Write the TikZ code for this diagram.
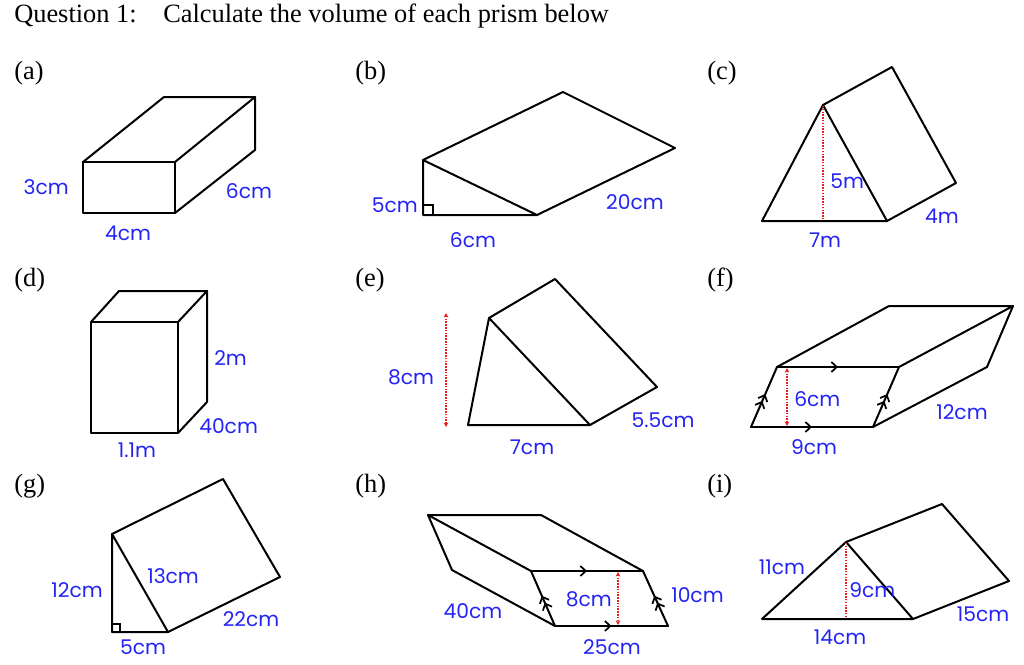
\documentclass[tikz,border=0pt]{standalone}
\usepackage{fontspec}
\setmainfont{Liberation Serif}
\newfontfamily\labelfont{Poppins}
\usetikzlibrary{arrows.meta,decorations.markings}
\definecolor{labelblue}{RGB}{35,35,245}
\definecolor{hred}{RGB}{235,30,30}

\begin{document}
\begin{tikzpicture}[x=0.75pt,y=-0.75pt,
		prism/.style={line width=1.5pt,line cap=round,line join=round},
		len/.style={text=labelblue,font=\labelfont\fontsize{15.2}{18}\selectfont,inner sep=0pt},
		part/.style={anchor=west,font=\fontsize{19.8}{23}\selectfont,inner sep=0pt},
		hline/.style={hred,line width=1.1pt,densely dotted},
		harrow/.style={hline,{Stealth[length=3.5pt,width=3.5pt]}-{Stealth[length=3.5pt,width=3.5pt]}},
		rangle/.style={line width=1.2pt},
		par1/.style={prism,postaction={decorate},decoration={markings,
			mark=at position 0.5 with {\arrow{Straight Barb[length=4pt,width=7.5pt,line width=1.3pt]}}}},
		par2/.style={prism,postaction={decorate},decoration={markings,
			mark=at position 0.55 with {\arrow{Straight Barb[length=4pt,width=7.5pt,line width=1.3pt] Straight Barb[length=4pt,width=7.5pt,line width=1.3pt]}}}}]
		
		\useasboundingbox (0,0) rectangle (1024,664);
		
		% Title
		\node[part,anchor=base west] (q) at (14,22) {Question 1:};
		\node[part,anchor=base west] (title) at (163,22) {Calculate the volume of each prism below};
		
		% Part labels
		\node[part] (pa) at (14,73) {(a)};
		\node[part] (pb) at (355,73) {(b)};
		\node[part] (pc) at (707,73) {(c)};
		\node[part] (pd) at (14,280) {(d)};
		\node[part] (pe) at (355,280) {(e)};
		\node[part] (pf) at (707,280) {(f)};
		\node[part] (pg) at (14,486) {(g)};
		\node[part] (ph) at (355,486) {(h)};
		\node[part] (pi) at (707,486) {(i)};
		
		% (a) cuboid
		\draw[prism] (83,162) -- (175,162) -- (175,213) -- (83,213) -- cycle;
		\draw[prism] (83,162) -- (164,97) -- (255,97) -- (175,162);
		\draw[prism] (255,97) -- (255,150) -- (175,213);
		\node[len,anchor=east] (a1) at (69,187) {3cm};
		\node[len] (a2) at (249,191) {6cm};
		\node[len] (a3) at (128,233) {4cm};
		
		% (b) right-angled wedge
		\draw[prism] (423,160) -- (423,215) -- (537,215) -- cycle;
		\draw[prism] (423,160) -- (563,92) -- (675,148) -- (537,215);
		\draw[rangle] (423,205) -| (433,215);
		\node[len,anchor=east] (b1) at (418,205) {5cm};
		\node[len] (b2) at (473,240) {6cm};
		\node[len] (b3) at (635,202) {20cm};
		
		% (c) triangular prism
		\draw[prism] (762,221) -- (823,105) -- (887,221) -- cycle;
		\draw[prism] (823,105) -- (892,67) -- (956,183) -- (887,221);
		\draw[hline] (823,106) -- (823,220);
		\node[len,anchor=west] (c1) at (830,181) {5m};
		\node[len] (c2) at (825,240) {7m};
		\node[len] (c3) at (942,216) {4m};
		
		% (d) cuboid
		\draw[prism] (91,322) -- (178,322) -- (178,433) -- (91,433) -- cycle;
		\draw[prism] (91,322) -- (119,291) -- (207,291) -- (178,322);
		\draw[prism] (207,291) -- (207,402) -- (178,433);
		\node[len,anchor=west] (d1) at (214,358) {2m};
		\node[len,anchor=west] (d2) at (199,426) {40cm};
		\node[len] (d3) at (137,450) {1.1m};
		
		% (e) triangular prism
		\draw[prism] (468,425) -- (489,318) -- (590,425) -- cycle;
		\draw[prism] (489,318) -- (555,279) -- (657,387) -- (590,425);
		\draw[harrow] (446,313) -- (446,427);
		\node[len] (e1) at (411,377) {8cm};
		\node[len] (e2) at (532,447) {7cm};
		\node[len] (e3) at (663,420) {5.5cm};
		
		% (f) parallelogram prism
		\draw[par1] (751,427) -- (873,427);
		\draw[par1] (777,367) -- (899,367);
		\draw[par2] (751,427) -- (777,367);
		\draw[par2] (873,427) -- (899,367);
		\draw[prism] (777,367) -- (889,306) -- (1013,306) -- (899,367);
		\draw[prism] (1013,306) -- (987,367) -- (873,427);
		\draw[harrow] (787,368) -- (787,426);
		\node[len,anchor=west] (f1) at (794,399) {6cm};
		\node[len] (f2) at (814,447) {9cm};
		\node[len] (f3) at (962,412) {12cm};
		
		% (g) right-angled prism
		\draw[prism] (112,534) -- (112,632) -- (168,632) -- cycle;
		\draw[prism] (112,534) -- (223,479) -- (280,577) -- (168,632);
		\draw[rangle] (112,624) -| (120,632);
		\node[len,anchor=east] (g1) at (103,590) {12cm};
		\node[len,anchor=west] (g2) at (147,576) {13cm};
		\node[len] (g3) at (251,619) {22cm};
		\node[len] (g4) at (143,647) {5cm};
		
		% (h) parallelogram prism
		\draw[prism] (452,570) -- (428,515) -- (541,515) -- (643,571);
		\draw[prism] (428,515) -- (531,571);
		\draw[prism] (452,570) -- (555,626);
		\draw[par1] (531,571) -- (643,571);
		\draw[par1] (555,626) -- (668,626);
		\draw[par2] (555,626) -- (531,571);
		\draw[par2] (668,626) -- (643,571);
		\draw[harrow] (618,572) -- (618,625);
		\node[len,anchor=east] (h1) at (612,599) {8cm};
		\node[len,anchor=west] (h2) at (671,595) {10cm};
		\node[len] (h3) at (473,611) {40cm};
		\node[len] (h4) at (612,647) {25cm};
		
		% (i) triangular prism
		\draw[prism] (762,619) -- (846,542) -- (913,619) -- cycle;
		\draw[prism] (846,542) -- (942,504) -- (1009,581) -- (913,619);
		\draw[hline] (846,543) -- (846,618);
		\node[len] (i1) at (782,567) {11cm};
		\node[len,anchor=west] (i2) at (849,590) {9cm};
		\node[len] (i3) at (840,637) {14cm};
		\node[len] (i4) at (983,614) {15cm};
		
	\end{tikzpicture}
\end{document}
